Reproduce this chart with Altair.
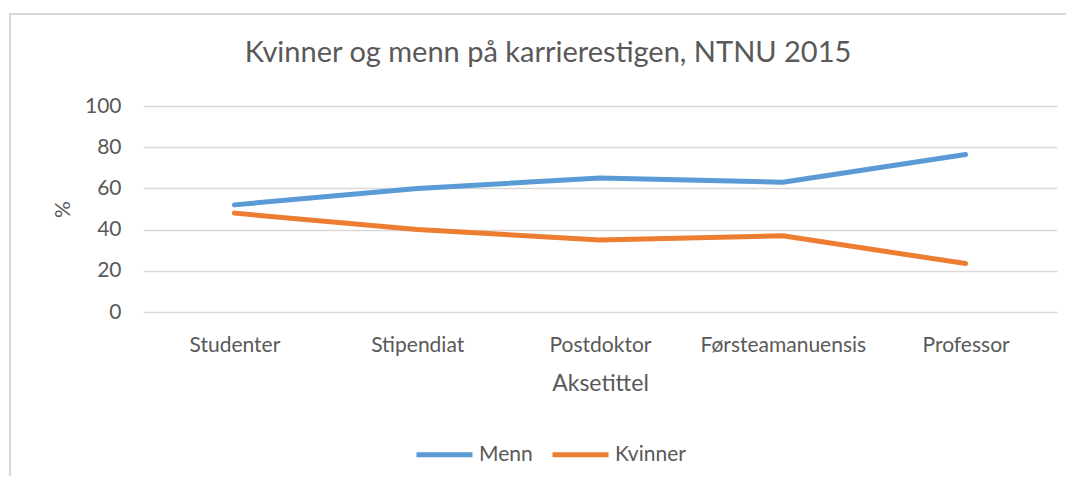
import altair as alt
import pandas as pd

categories = ["Studenter", "Stipendiat", "Postdoktor", "Førsteamanuensis", "Professor"]
menn = [52, 60, 65, 63, 76.5]
kvinner = [48, 40, 35, 37, 23.5]
series = ["Menn", "Kvinner"]
colors = ["#5B9BD5", "#ED7D31"]
y_ticks = [0, 20, 40, 60, 80, 100]

rows = []
for s, vals in zip(series, [menn, kvinner]):
    for c, v in zip(categories, vals):
        rows.append({"Stilling": c, "Prosent": v, "Kjønn": s})
df = pd.DataFrame(rows)

FONT = "Lato"
GRAY = "#595959"

border = alt.Chart(pd.DataFrame({"a": [0]})).mark_rect(
    fillOpacity=0, stroke="#D9D9D9", strokeWidth=2
).encode(
    x=alt.value(-133), x2=alt.value(960), y=alt.value(-92), y2=alt.value(420)
)

lines = alt.Chart(df).mark_line(
    strokeWidth=5, strokeCap="round", strokeJoin="round"
).encode(
    x=alt.X("Stilling:N", sort=categories,
            axis=alt.Axis(title="Aksetittel", labelAngle=0, domain=False, ticks=False,
                          tickSize=0, grid=False, labelFontSize=21, labelColor=GRAY,
                          labelFont=FONT, labelPadding=22, titleFont=FONT,
                          titleFontSize=23, titleColor=GRAY, titleFontWeight="normal",
                          titleY=78, titleBaseline="alphabetic")),
    y=alt.Y("Prosent:Q", scale=alt.Scale(domain=[0, 100]),
            axis=alt.Axis(title="%", values=y_ticks, domain=False, ticks=False, tickSize=0,
                          grid=True, gridColor="#D9D9D9", gridWidth=1.3,
                          labelFontSize=21, labelColor=GRAY, labelFont=FONT,
                          labelPadding=22, titleFont=FONT, titleFontSize=21,
                          titleColor=GRAY, titleFontWeight="normal",
                          titleX=-80, titleY=103, titleBaseline="middle")),
    color=alt.Color("Kjønn:N", sort=series,
                    scale=alt.Scale(domain=series, range=colors),
                    legend=alt.Legend(title=None, orient="none", legendX=271, legendY=318,
                                      direction="horizontal", symbolType="stroke",
                                      symbolStrokeWidth=5, symbolSize=3136,
                                      labelFontSize=21, labelColor=GRAY, labelFont=FONT,
                                      labelOffset=4, columnPadding=9, padding=0)),
)

chart = alt.layer(border, lines).properties(
    width=914, height=206,
    autosize=alt.AutoSizeParams(type="none"),
    padding={"left": 135, "top": 98, "right": 9, "bottom": 164},
    title=alt.Title("Kvinner og menn på karrierestigen, NTNU 2015", anchor="middle",
                    dx=-52, offset=-55, fontSize=29, font=FONT, color=GRAY,
                    fontWeight="normal"),
).configure_view(stroke=None)

chart.save("out.html", embed_options={"renderer": "svg", "actions": False})
